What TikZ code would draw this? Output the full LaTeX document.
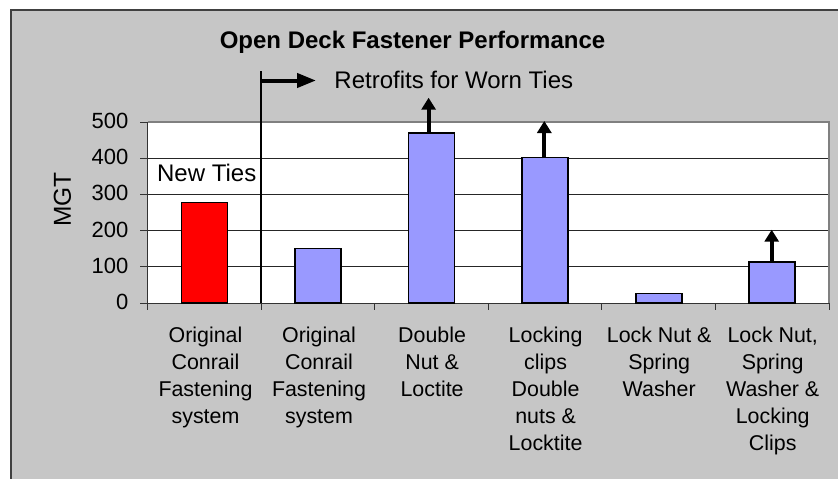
\documentclass[tikz,border=0pt]{standalone}
\usepackage{fontspec}
\setmainfont{Liberation Sans}
\usetikzlibrary{arrows.meta}
\definecolor{framefill}{RGB}{198,198,198}
\definecolor{framedraw}{RGB}{64,64,64}
\definecolor{barblue}{RGB}{153,153,255}
\definecolor{plotedge}{RGB}{128,128,128}
\begin{document}
\begin{tikzpicture}[x=1pt,y=-1pt,
  framebox/.style={draw=framedraw,line width=1.3pt,fill=framefill},
  gridline/.style={draw=black!85,line width=0.8pt},
  axisline/.style={draw=black!80,line width=1pt},
  edgeline/.style={draw=plotedge,line width=1.5pt},
  barbox/.style={draw=black,line width=1.6pt,minimum width=46pt,inner sep=0pt,outer sep=0pt,anchor=south},
  uparrow/.style={line width=4pt,-{Triangle[length=12pt,width=14pt]}},
  rightarrow/.style={line width=4pt,-{Triangle[length=19pt,width=14pt]}},
  ylab/.style={font=\fontsize{22}{26}\selectfont,anchor=base east,inner sep=0pt},
  catlab/.style={font=\fontsize{21.4}{27}\selectfont,align=center,anchor=north,inner sep=0pt},
  annot/.style={font=\fontsize{24}{28}\selectfont,anchor=base,inner sep=0pt}]
\useasboundingbox (0,0) rectangle (838,479);
\fill[white] (0,0) rectangle (838,479);
\draw[framebox] (11,10) rectangle (860,500);
% plot area
\fill[white] (147.7,122) rectangle (829,303);
\foreach \k in {1,2,3,4} \draw[gridline] (147.7,303-36.2*\k) -- (829,303-36.2*\k);
\draw[edgeline] (147.7,122) -- (829,122) -- (829,303);
\draw[axisline] (147.7,122) -- (147.7,303) -- (829,303);
\foreach \k in {0,...,5} \draw[axisline] (140,303-36.2*\k) -- (147.7,303-36.2*\k);
\foreach \k in {0,...,6} \draw[axisline] (147.7+113.55*\k,303) -- (147.7+113.55*\k,310);
% y labels
\node[ylab] (y0) at (128.5,309.5) {0};
\node[ylab] (y1) at (128.5,273.3) {100};
\node[ylab] (y2) at (128.5,237.1) {200};
\node[ylab] (y3) at (128.5,200.9) {300};
\node[ylab] (y4) at (128.5,164.7) {400};
\node[ylab] (y5) at (128.5,128.5) {500};
\node[font=\fontsize{24.5}{28}\selectfont,rotate=90,inner sep=0pt] (mgt) at (62.5,199.3) {MGT};
% bars
\node[barbox,fill=red,minimum height=100.7pt] (b1) at (204.5,303) {};
\node[barbox,fill=barblue,minimum height=54.7pt] (b2) at (318.0,303) {};
\node[barbox,fill=barblue,minimum height=170.3pt] (b3) at (431.6,303) {};
\node[barbox,fill=barblue,minimum height=145.7pt] (b4) at (545.1,303) {};
\node[barbox,fill=barblue,minimum height=9.7pt] (b5) at (658.7,303) {};
\node[barbox,fill=barblue,minimum height=41pt] (b6) at (772.2,303) {};
% up arrows
\coordinate (t3) at (428.6,97.7);
\coordinate (t4) at (544.3,121);
\coordinate (t6) at (771.7,229.7);
\draw[uparrow] ([xshift=-3pt,yshift=-1pt]b3.north) -- (t3);
\draw[uparrow] ([xshift=-0.8pt,yshift=-1pt]b4.north) -- (t4);
\draw[uparrow] ([xshift=-0.5pt,yshift=-1pt]b6.north) -- (t6);
% separator and retrofit arrow
\coordinate (septop) at (261.25,71);
\coordinate (sepbot) at (261.25,303);
\coordinate (rstart) at (261.25,80.5);
\coordinate (rend) at (316,80.5);
\draw[line width=1.6pt,black] (septop) -- (sepbot);
\draw[rightarrow] (rstart) -- (rend);
% texts
\node[annot,font=\fontsize{24}{28}\selectfont\bfseries] (title) at (412.5,48.3) {Open Deck Fastener Performance};
\node[annot] (retro) at (453.8,88.3) {Retrofits for Worn Ties};
\node[annot] (newties) at (206.7,181.7) {New Ties};
% category labels
\node[catlab] (c1) at (205.5,326.4) {Original\\Conrail\\Fastening\\system};
\node[catlab] (c2) at (319.0,326.4) {Original\\Conrail\\Fastening\\system};
\node[catlab] (c3) at (432.1,326.4) {Double\\Nut \&\\Loctite};
\node[catlab] (c4) at (545.6,326.4) {Locking\\clips\\Double\\nuts \&\\Locktite};
\node[catlab] (c5) at (659.2,326.4) {Lock Nut \&\\Spring\\Washer};
\node[catlab] (c6) at (772.7,326.4) {Lock Nut,\\Spring\\Washer \&\\Locking\\Clips};
\end{tikzpicture}
\end{document}
